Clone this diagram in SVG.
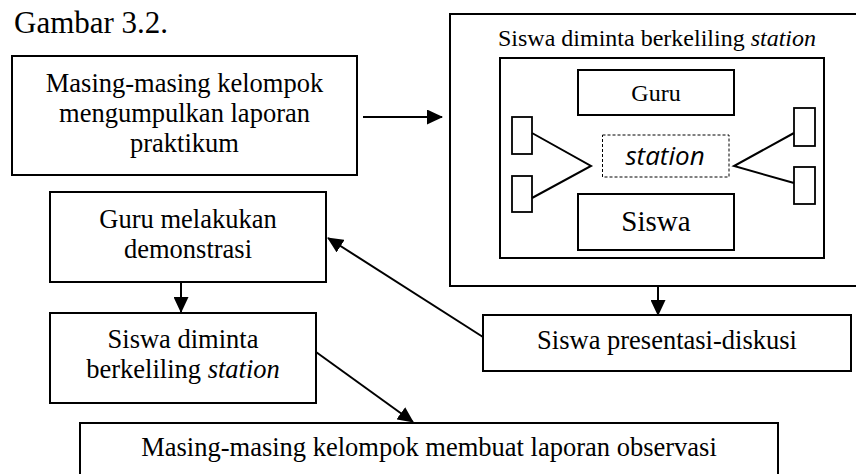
<svg xmlns="http://www.w3.org/2000/svg" width="856" height="474" viewBox="0 0 856 474">
<defs>
<style>
.box{fill:#fff;stroke:#000;stroke-width:2}
.sm{fill:#fff;stroke:#000;stroke-width:1.8}
.t{font-family:"Liberation Serif","Times New Roman",serif;fill:#000;text-anchor:middle}
.m{font-size:26.5px}
.ln{fill:none;stroke:#000;stroke-width:2}
.arr{fill:none;stroke:#000;stroke-width:2;marker-end:url(#ah)}
</style>
<marker id="ah" markerUnits="userSpaceOnUse" markerWidth="17" markerHeight="15" refX="15" refY="7.5" orient="auto">
<path d="M0,0 L16,7.5 L0,15 z" fill="#000"/>
</marker>
</defs>
<rect width="856" height="474" fill="#fff"/>
<text class="t" x="14" y="33" style="text-anchor:start;font-size:31px">Gambar 3.2.</text>

<g id="n1">
<rect class="box" x="12" y="56" width="345" height="119"/>
<text class="t m" x="184.5" y="92">Masing-masing kelompok</text>
<text class="t m" x="184.5" y="122">mengumpulkan laporan</text>
<text class="t m" x="184.5" y="152">praktikum</text>
</g>

<g id="n2">
<rect class="box" x="50" y="192" width="276" height="90"/>
<text class="t m" x="188" y="228">Guru melakukan</text>
<text class="t m" x="188" y="258">demonstrasi</text>
</g>

<g id="n3">
<rect class="box" x="50" y="313" width="266" height="90"/>
<text class="t m" x="183" y="348">Siswa diminta</text>
<text class="t m" x="183" y="378">berkeliling <tspan font-style="italic">station</tspan></text>
</g>

<g id="n4">
<rect class="box" x="80" y="423" width="698" height="60"/>
<text class="t m" x="429" y="456">Masing-masing kelompok membuat laporan observasi</text>
</g>

<g id="n5">
<rect class="box" x="483" y="315" width="368" height="56"/>
<text class="t m" x="667" y="349">Siswa presentasi-diskusi</text>
</g>

<g id="n6">
<rect class="box" x="450" y="14" width="412" height="272"/>
<text class="t" x="657" y="46" style="font-size:24px">Siswa diminta berkeliling <tspan font-style="italic">station</tspan></text>
<rect class="box" x="500" y="58" width="324" height="200"/>
<g id="guru">
<rect class="box" x="578" y="70" width="156" height="45"/>
<text class="t" x="656" y="101" style="font-size:24px">Guru</text>
</g>
<g id="siswa">
<rect class="box" x="578" y="194" width="156" height="56"/>
<text class="t" x="656" y="231" style="font-size:29px">Siswa</text>
</g>
<g id="station">
<rect x="602.5" y="135" width="126.5" height="42" fill="#fff" stroke="#000" stroke-width="1" stroke-dasharray="3 2"/>
<text x="665" y="165" style="font-family:'Open Sans','Noto Sans',sans-serif;font-style:italic;font-size:26px;text-anchor:middle">station</text>
</g>
<rect class="sm" x="512" y="117" width="20" height="37"/>
<rect class="sm" x="512" y="176" width="20" height="36"/>
<rect class="sm" x="794" y="108" width="21" height="38"/>
<rect class="sm" x="794" y="167" width="21" height="37"/>
<polyline class="ln" points="532,133 591,166 532,198"/>
<polyline class="ln" points="794,133 734,166 794,183"/>
</g>

<g id="connectors">
<line class="arr" x1="363" y1="117" x2="442" y2="117"/>
<line class="arr" x1="181" y1="282" x2="181" y2="312"/>
<line class="arr" x1="316" y1="352" x2="413" y2="422"/>
<line class="arr" x1="658" y1="287" x2="658" y2="315"/>
<line class="arr" x1="483" y1="337" x2="328" y2="238"/>
</g>
</svg>
